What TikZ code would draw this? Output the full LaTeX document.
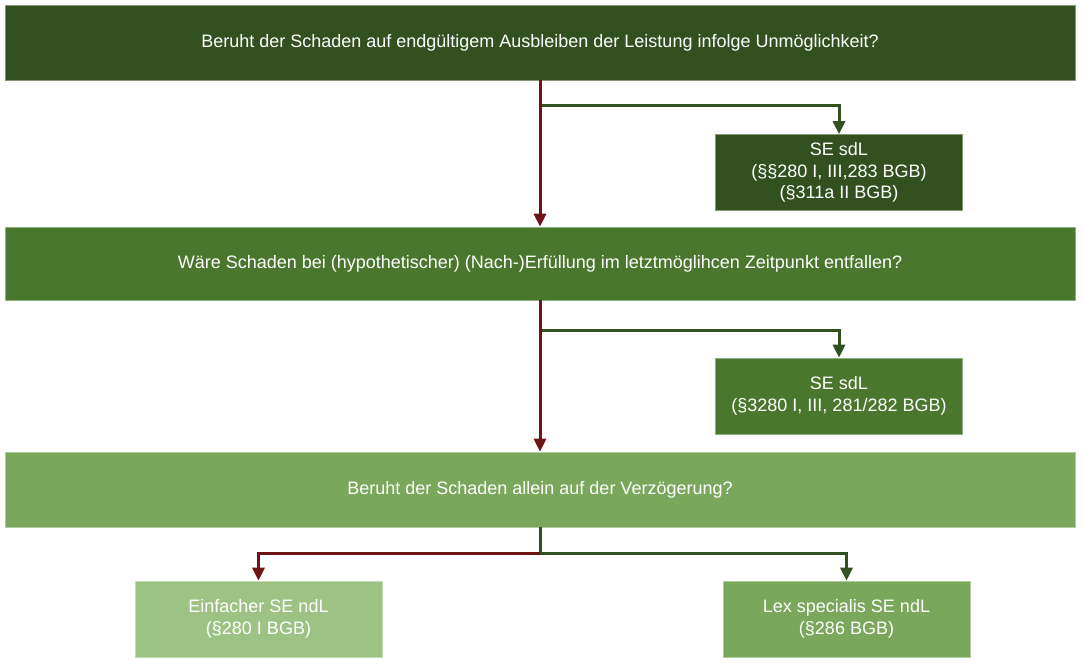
\documentclass[tikz,border=0pt]{standalone}
\usepackage{fontspec}
\setmainfont{Liberation Sans}
\usepackage{tikz}
\usetikzlibrary{arrows.meta}
\usetikzlibrary{positioning}

\definecolor{gruenA}{HTML}{33501F}
\definecolor{gruenB}{HTML}{4A772E}
\definecolor{gruenC}{HTML}{79A75B}
\definecolor{gruenD}{HTML}{9DC384}
\definecolor{rotbraun}{HTML}{6E1414}

\tikzset{
    frage/.style={draw=#1!60!white, fill=#1, line width=0.6pt, text=white, minimum width=1070pt, minimum height=75pt, inner sep=0pt, font=\fontsize{18}{22}\selectfont},
    ergebnis/.style={draw=#1!60!white, fill=#1, line width=0.6pt, text=white, minimum width=247pt, minimum height=76pt, inner sep=0pt, align=center, font=\fontsize{18}{21.5}\selectfont},
    ja/.style={draw=rotbraun, line width=3pt, -{Triangle[length=13pt,width=12pt]}},
    nein/.style={draw=gruenA, line width=3pt, -{Triangle[length=13pt,width=12pt]}},
}

\begin{document}
\begin{tikzpicture}[x=1pt, y=-1pt]
    \useasboundingbox (0,0) rectangle (1084,666);

    % fragen
    \node[frage=gruenA] (f1) at (540, 42.5) {Beruht der Schaden auf endgültigem Ausbleiben der Leistung infolge Unmöglichkeit?};
    \node[frage=gruenB, minimum height=73pt] (f2) at (540, 263.5) {Wäre Schaden bei (hypothetischer) (Nach-)Erfüllung im letztmöglihcen Zeitpunkt entfallen?};
    \node[frage=gruenC] (f3) at (540, 489.5) {Beruht der Schaden allein auf der Verzögerung?};

    % ergebnisse
    \node[ergebnis=gruenA] (e1) at (839, 172.5) {SE sdL\\(§§280 I, III,283 BGB)\\(§311a II BGB)};
    \node[ergebnis=gruenB] (e2) at (839, 396) {SE sdL\\(§3280 I, III, 281/282 BGB)};
    \node[ergebnis=gruenD] (e3) at (258.5, 619) {Einfacher SE ndL\\(§280 I BGB)};
    \node[ergebnis=gruenC] (e4) at (846.5, 619) {Lex specialis SE ndL\\(§286 BGB)};

    % abzweigungen
    \coordinate (k1) at (540, 106);
    \coordinate (k2) at (540, 330);
    \coordinate (k3) at (540, 553);

    \draw[nein] (k1) -| (e1.north);
    \draw[ja] (f1.south) -- (f2.north);
    \draw[nein] (k2) -| (e2.north);
    \draw[ja] (f2.south) -- (f3.north);

    \draw[nein, -] (f3.south) -- (k3);
    \draw[ja] (k3) -| (e3.north);
    \draw[nein] (k3) -| (e4.north);
\end{tikzpicture}
\end{document}
